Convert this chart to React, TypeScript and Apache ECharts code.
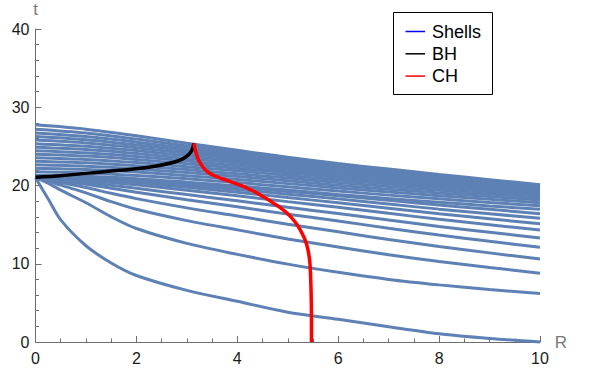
import React, { useEffect, useRef } from "react";
import * as echarts from "echarts";

// Radial sample positions for the shell worldlines
const R_FINE = [0, 0.25, 0.5, 1, 1.5, 2, 3, 4, 5, 6, 7, 8, 9, 10];
const R_COARSE = [0, 1, 2, 3, 4, 5, 6, 7, 8, 9, 10];

// Outer shells: all reach the centre at t ≈ 21 (sampled on R_FINE)
const outerShells: number[][] = [
  [21.0, 18.3, 15.6, 12.3, 10.1, 8.5, 6.6, 5.2, 3.8, 2.9, 1.95, 1.05, 0.45, 0],
  [21.0, 20.3, 19.4, 17.8, 16.0, 14.5, 12.6, 11.2, 9.95, 8.9, 8.0, 7.3, 6.7, 6.2],
  [21.0, 20.59, 20.04, 19.06, 17.94, 16.96, 15.51, 14.33, 13.17, 12.14, 11.15, 10.29, 9.52, 8.8],
  [21.0, 20.74, 20.39, 19.75, 19.0, 18.32, 17.14, 16.1, 15.05, 14.08, 13.11, 12.2, 11.39, 10.6],
  [21.0, 20.83, 20.59, 20.16, 19.65, 19.15, 18.19, 17.28, 16.34, 15.46, 14.54, 13.67, 12.87, 12.1],
  [21.0, 20.88, 20.72, 20.41, 20.03, 19.65, 18.84, 18.05, 17.21, 16.42, 15.58, 14.76, 14.03, 13.3],
  [21.05, 20.97, 20.86, 20.65, 20.38, 20.08, 19.4, 18.69, 17.94, 17.22, 16.44, 15.68, 14.99, 14.3],
  [21.1, 21.05, 20.96, 20.81, 20.61, 20.37, 19.77, 19.14, 18.46, 17.8, 17.09, 16.38, 15.74, 15.1],
  [21.1, 21.06, 21.01, 20.91, 20.76, 20.57, 20.05, 19.49, 18.88, 18.29, 17.63, 16.98, 16.39, 15.8],
  [21.12, 21.1, 21.07, 21.0, 20.9, 20.75, 20.3, 19.8, 19.24, 18.7, 18.1, 17.5, 16.95, 16.4],
];

// Inner shells: reach the centre between t ≈ 21.3 and 27.75 (sampled on R_COARSE)
const innerShells: number[][] = [
  [21.3, 21.17, 20.87, 20.43, 19.95, 19.43, 18.86, 18.34, 17.86, 17.39, 16.95],
  [21.75, 21.61, 21.29, 20.85, 20.37, 19.84, 19.29, 18.77, 18.3, 17.83, 17.4],
  [22.2, 22.04, 21.71, 21.25, 20.77, 20.24, 19.68, 19.17, 18.7, 18.23, 17.8],
  [22.65, 22.47, 22.12, 21.65, 21.14, 20.61, 20.04, 19.53, 19.05, 18.59, 18.15],
  [23.1, 22.9, 22.52, 22.03, 21.5, 20.95, 20.38, 19.86, 19.38, 18.9, 18.45],
  [23.55, 23.33, 22.93, 22.41, 21.87, 21.29, 20.71, 20.19, 19.69, 19.21, 18.75],
  [24.0, 23.76, 23.32, 22.77, 22.21, 21.61, 21.02, 20.48, 19.97, 19.47, 19.0],
  [24.45, 24.18, 23.71, 23.12, 22.52, 21.9, 21.28, 20.73, 20.2, 19.69, 19.2],
  [24.9, 24.6, 24.09, 23.46, 22.83, 22.18, 21.55, 20.97, 20.43, 19.9, 19.4],
  [25.35, 25.02, 24.46, 23.79, 23.12, 22.44, 21.78, 21.19, 20.62, 20.07, 19.55],
  [25.8, 25.43, 24.83, 24.12, 23.41, 22.69, 22.01, 21.4, 20.8, 20.24, 19.7],
  [26.25, 25.84, 25.19, 24.42, 23.68, 22.92, 22.21, 21.58, 20.97, 20.39, 19.82],
  [26.7, 26.25, 25.54, 24.72, 23.93, 23.14, 22.4, 21.75, 21.12, 20.52, 19.93],
  [27.2, 26.71, 25.93, 25.05, 24.21, 23.37, 22.6, 21.92, 21.26, 20.64, 20.02],
  [27.75, 27.2, 26.35, 25.4, 24.5, 23.6, 22.8, 22.1, 21.4, 20.75, 20.1],
];

// Black hole (apparent horizon) curve: [R, t]
const bhCurve: [number, number][] = [
  [0, 21.05], [0.5, 21.25], [1, 21.55], [1.5, 21.85], [2, 22.15], [2.4, 22.5],
  [2.7, 22.9], [2.9, 23.35], [3.02, 23.85], [3.1, 24.5], [3.14, 25.4],
];

// CH curve: [R, t]
const chCurve: [number, number][] = [
  [3.14, 25.4], [3.17, 24.5], [3.21, 23.6], [3.28, 22.7], [3.39, 21.85], [3.6, 21.1],
  [3.86, 20.5], [4.2, 19.65], [4.51, 18.6], [4.8, 17.4], [5.0, 16.4], [5.15, 15.3],
  [5.25, 14.3], [5.34, 13.1], [5.4, 11.8], [5.44, 10.0], [5.46, 7.0], [5.47, 3.0], [5.47, 0],
];

const legendItems = [
  { name: "Shells", color: "#0000ff" },
  { name: "BH", color: "#000000" },
  { name: "CH", color: "#ff0000" },
];

const SHELL_COLOR = "#5e81b5";
const FONT = "'Liberation Sans', Arial, sans-serif";
const AXIS_COLOR = "#6e6e6e";

function shellLine(id: string, data: number[][]) {
  return {
    name: "Shells",
    id,
    type: "line",
    data,
    showSymbol: false,
    smooth: 0.3,
    clip: false,
    lineStyle: { color: SHELL_COLOR, width: 3 },
    z: 2,
  };
}

function buildOption(): echarts.EChartsOption {
  const shellSeries: any[] = [];
  outerShells.forEach((ts, i) => {
    shellSeries.push(shellLine("outer" + i, R_FINE.map((r, j) => [r, ts[j]])));
  });
  innerShells.forEach((ts, i) => {
    shellSeries.push(shellLine("inner" + i, R_COARSE.map((r, j) => [r, ts[j]])));
  });

  const legendGraphics: any[] = [
    {
      type: "rect",
      shape: { x: 393.5, y: 12.5, width: 99, height: 82 },
      style: { fill: "#ffffff", stroke: "#000000", lineWidth: 1 },
      z: 100,
    },
  ];
  legendItems.forEach((item, i) => {
    const cy = 31.5 + i * 22.3;
    legendGraphics.push({
      type: "line",
      shape: { x1: 405.5, y1: cy, x2: 425, y2: cy },
      style: { stroke: item.color, lineWidth: 1.5 },
      z: 101,
    });
    legendGraphics.push({
      type: "text",
      x: 432,
      y: cy,
      style: {
        text: item.name,
        fill: "#000000",
        font: `18px ${FONT}`,
        verticalAlign: "middle",
        align: "left",
      },
      z: 101,
    });
  });

  return {
    animation: false,
    backgroundColor: "#ffffff",
    grid: { left: 35.5, top: 29, width: 504.5, height: 313, containLabel: false },
    xAxis: {
      type: "value",
      min: 0,
      max: 10,
      interval: 2,
      name: "R",
      nameLocation: "end",
      nameGap: 13,
      nameTextStyle: { color: "#7a7a7a", fontSize: 17, fontFamily: FONT, verticalAlign: "middle" },
      axisLine: { show: true, onZero: false, lineStyle: { color: AXIS_COLOR, width: 1 } },
      axisTick: { show: true, inside: true, length: 6, lineStyle: { color: AXIS_COLOR } },
      minorTick: { show: true, splitNumber: 4, length: 3.5, lineStyle: { color: AXIS_COLOR } },
      splitLine: { show: false },
      axisLabel: { color: "#1a1a1a", fontSize: 16, fontFamily: FONT, margin: 8 },
    },
    yAxis: {
      type: "value",
      min: 0,
      max: 40,
      interval: 10,
      name: "t",
      nameLocation: "end",
      nameGap: 11,
      nameTextStyle: { color: "#7a7a7a", fontSize: 17, fontFamily: FONT },
      axisLine: { show: true, onZero: false, lineStyle: { color: AXIS_COLOR, width: 1 } },
      axisTick: { show: true, inside: true, length: 6, lineStyle: { color: AXIS_COLOR } },
      minorTick: { show: true, splitNumber: 5, length: 3.5, lineStyle: { color: AXIS_COLOR } },
      splitLine: { show: false },
      axisLabel: { color: "#1a1a1a", fontSize: 16, fontFamily: FONT, margin: 6 },
    },
    series: [
      ...shellSeries,
      {
        name: "BH",
        type: "line",
        data: bhCurve,
        showSymbol: false,
        smooth: 0.3,
        clip: false,
        lineStyle: { color: "#000000", width: 3.5 },
        z: 3,
      },
      {
        name: "CH",
        type: "line",
        data: chCurve,
        showSymbol: false,
        smooth: 0.3,
        clip: false,
        lineStyle: { color: "#ff0000", width: 3.5 },
        z: 4,
      },
    ],
    graphic: legendGraphics,
  };
}

export default function App() {
  const ref = useRef<HTMLDivElement>(null);
  useEffect(() => {
    if (!ref.current) return;
    const chart = echarts.init(ref.current, null, { renderer: "svg" });
    chart.setOption(buildOption());
    return () => chart.dispose();
  }, []);
  return (
    <div
      ref={ref}
      style={{ position: "fixed", left: 0, top: 0, width: 600, height: 375, background: "#ffffff" }}
    />
  );
}
